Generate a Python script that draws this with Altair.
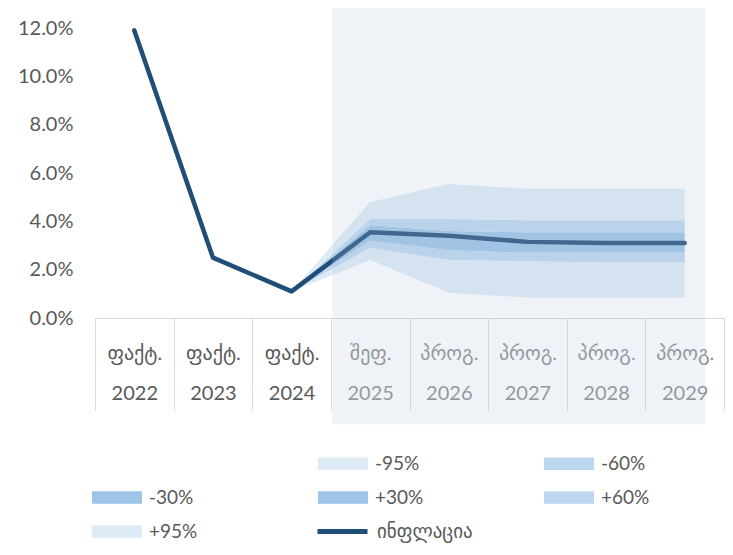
import altair as alt
import pandas as pd

# ---- data ----
categories = ["ფაქტ.|2022", "ფაქტ.|2023", "ფაქტ.|2024", "შეფ.|2025",
              "პროგ.|2026", "პროგ.|2027", "პროგ.|2028", "პროგ.|2029"]
inflation = [11.9, 2.5, 1.1, 3.55, 3.4, 3.15, 3.1, 3.1]

fan_categories = categories[2:]
lo95 = [1.1, 2.4, 1.05, 0.85, 0.85, 0.85]
lo60 = [1.1, 2.9, 2.4, 2.35, 2.3, 2.3]
lo30 = [1.1, 3.2, 2.8, 2.7, 2.7, 2.7]
mid = inflation[2:]
hi30 = [1.1, 3.85, 3.6, 3.55, 3.55, 3.55]
hi60 = [1.1, 4.1, 4.1, 4.05, 4.05, 4.05]
hi95 = [1.1, 4.8, 5.55, 5.35, 5.35, 5.35]

band_labels = ["-95%", "-60%", "-30%", "+30%", "+60%", "+95%"]
band_colors = ["#deebf7", "#bdd7ee", "#9dc3e6", "#9dc3e6", "#bdd7ee", "#deebf7"]
line_label = "ინფლაცია"
y_ticks = [0, 2, 4, 6, 8, 10, 12]

FONT = "Lato, DejaVu Sans, sans-serif"
TXT = "#595959"

# ---- tables ----
line_df = pd.DataFrame({"cat": categories, "value": inflation, "series": line_label})
bounds = [lo95, lo60, lo30, mid, hi30, hi60, hi95]
rows = []
for i, lab in enumerate(band_labels):
    for j, c in enumerate(fan_categories):
        rows.append({"cat": c, "band": lab, "lo": bounds[i][j], "hi": bounds[i + 1][j], "order": i})
band_df = pd.DataFrame(rows)

xscale = alt.Scale(type="band", domain=categories, paddingInner=0, paddingOuter=0)
yscale = alt.Scale(domain=[0, 12], nice=False, zero=False)

x_axis = alt.Axis(
    title=None, labelAngle=0, labelAlign="center", labelBaseline="top",
    labelExpr="split(datum.label, '|')", labelLineHeight=40,
    labelFont=FONT, labelFontSize=20,
    labelColor={"expr": "toNumber(slice(datum.label, -4)) >= 2025 ? '#8c8c8c' : '#595959'"},
    domainColor="#d9d9d9", domainWidth=1, tickColor="#d9d9d9", tickWidth=1,
    tickSize=92, tickBand="extent", labelPadding=-67, grid=False,
)
y_axis = alt.Axis(
    title=None, values=y_ticks, labelExpr="format(datum.value, '.1f') + '%'",
    labelFont=FONT, labelFontSize=20, labelColor=TXT, labelPadding=22,
    ticks=False, domain=False, grid=False,
)

bands = alt.Chart(band_df).mark_area(opacity=1).encode(
    x=alt.X("cat:N", scale=xscale, axis=x_axis, sort=categories),
    y=alt.Y("lo:Q", scale=yscale, axis=y_axis),
    y2="hi:Q",
    fill=alt.Fill(
        "band:N",
        scale=alt.Scale(domain=["_"] + band_labels, range=["transparent"] + band_colors),
        legend=alt.Legend(
            orient="none", legendX=-3, legendY=423, columns=3, direction="horizontal",
            title=None,
            symbolType="M-1,-0.5H3V0.5H-1Z", symbolSize=625, symbolStrokeWidth=0,
            symbolOpacity=1, labelOffset=32, labelFont=FONT, labelFontSize=19,
            labelColor=TXT, rowPadding=11, columnPadding=120, gridAlign="all",
            labelExpr="datum.label == '_' ? '' : datum.label",
        ),
    ),
    order=alt.Order("order:Q"),
)

line = alt.Chart(line_df).mark_line(strokeWidth=4.5, strokeJoin="round", strokeCap="round").encode(
    x=alt.X("cat:N", scale=xscale, sort=categories),
    y=alt.Y("value:Q", scale=yscale),
    stroke=alt.Stroke(
        "series:N",
        scale=alt.Scale(domain=[line_label], range=["#1f4e79"]),
        legend=alt.Legend(
            orient="none", legendX=220, legendY=476, title=None,
            symbolType="stroke", symbolSize=2500, symbolStrokeWidth=5,
            labelOffset=7, labelFont=FONT, labelFontSize=19, labelColor=TXT,
        ),
    ),
)

overlay = alt.Chart(pd.DataFrame({"k": [0]})).mark_rect(color="#b4c8e1", opacity=0.22).encode(
    x=alt.datum(categories[3], bandPosition=0.02),
    x2=alt.datum(categories[7], bandPosition=0.76),
    y=alt.datum(13.0),
    y2=alt.datum(-4.4),
)

chart = alt.layer(bands, line, overlay).resolve_scale(fill="independent", stroke="independent").properties(
    width=629, height=290,
    autosize=alt.AutoSizeParams(type="none"),
    padding={"left": 87, "top": 20, "right": 1, "bottom": 225},
).configure(background="white").configure_view(stroke=None)

chart.save("out.html", embed_options={"renderer": "svg", "actions": False})
